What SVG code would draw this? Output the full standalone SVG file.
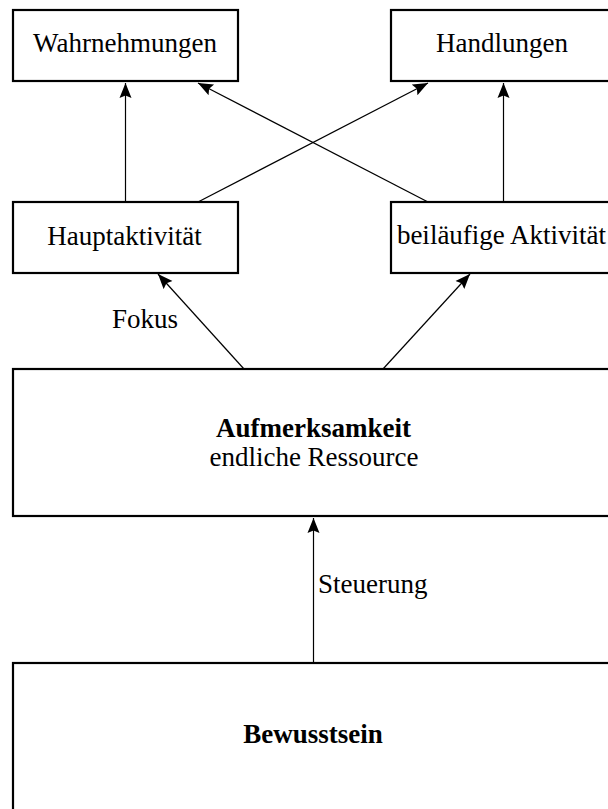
<svg xmlns="http://www.w3.org/2000/svg" width="608" height="809" viewBox="0 0 608 809">
<style>
.box{fill:#fff;stroke:#000;stroke-width:2.2}
.edge{fill:none;stroke:#000;stroke-width:1.2}
text{font-family:"Liberation Serif","Times New Roman",serif;font-size:27px;fill:#000}
.c{text-anchor:middle}
.b{font-weight:bold}
</style>
<defs>
<marker id="ah" markerUnits="userSpaceOnUse" markerWidth="18" markerHeight="14" refX="15" refY="6.5" orient="auto">
<path d="M0,0.5 L15,6.5 L0,12.5 L2.5,6.5 z" fill="#000"/>
</marker>
</defs>
<rect width="608" height="809" fill="#fff"/>
<g id="connectors">
<path class="edge" d="M125.5,202 L125.5,83" marker-end="url(#ah)"/>
<path class="edge" d="M503.5,202 L503.5,83" marker-end="url(#ah)"/>
<path class="edge" d="M198,202 L428,83" marker-end="url(#ah)"/>
<path class="edge" d="M428,202 L198,83" marker-end="url(#ah)"/>
<path class="edge" d="M244,369 L158,274" marker-end="url(#ah)"/>
<path class="edge" d="M383,369 L470,274" marker-end="url(#ah)"/>
<path class="edge" d="M313.5,663 L313.5,518" marker-end="url(#ah)"/>
<text class="c" x="145" y="328">Fokus</text>
<text x="318" y="593">Steuerung</text>
</g>
<g id="wahrnehmungen">
<rect class="box" x="13" y="10" width="225" height="71"/>
<text class="c" x="125" y="52">Wahrnehmungen</text>
</g>
<g id="handlungen">
<rect class="box" x="391" y="10" width="225" height="71"/>
<text class="c" x="502" y="52">Handlungen</text>
</g>
<g id="hauptaktivitaet">
<rect class="box" x="13" y="202" width="225" height="71"/>
<text class="c" x="124.5" y="245">Hauptaktivität</text>
</g>
<g id="beilaeufige">
<rect class="box" x="391" y="202" width="225" height="71"/>
<text class="c" x="501.5" y="244">beiläufige Aktivität</text>
</g>
<g id="aufmerksamkeit">
<rect class="box" x="13" y="369" width="601" height="147"/>
<text class="c b" x="313.5" y="437">Aufmerksamkeit</text>
<text class="c" x="314" y="466">endliche Ressource</text>
</g>
<g id="bewusstsein">
<rect class="box" x="13" y="663" width="601" height="152"/>
<text class="c b" x="313" y="743">Bewusstsein</text>
</g>
</svg>
